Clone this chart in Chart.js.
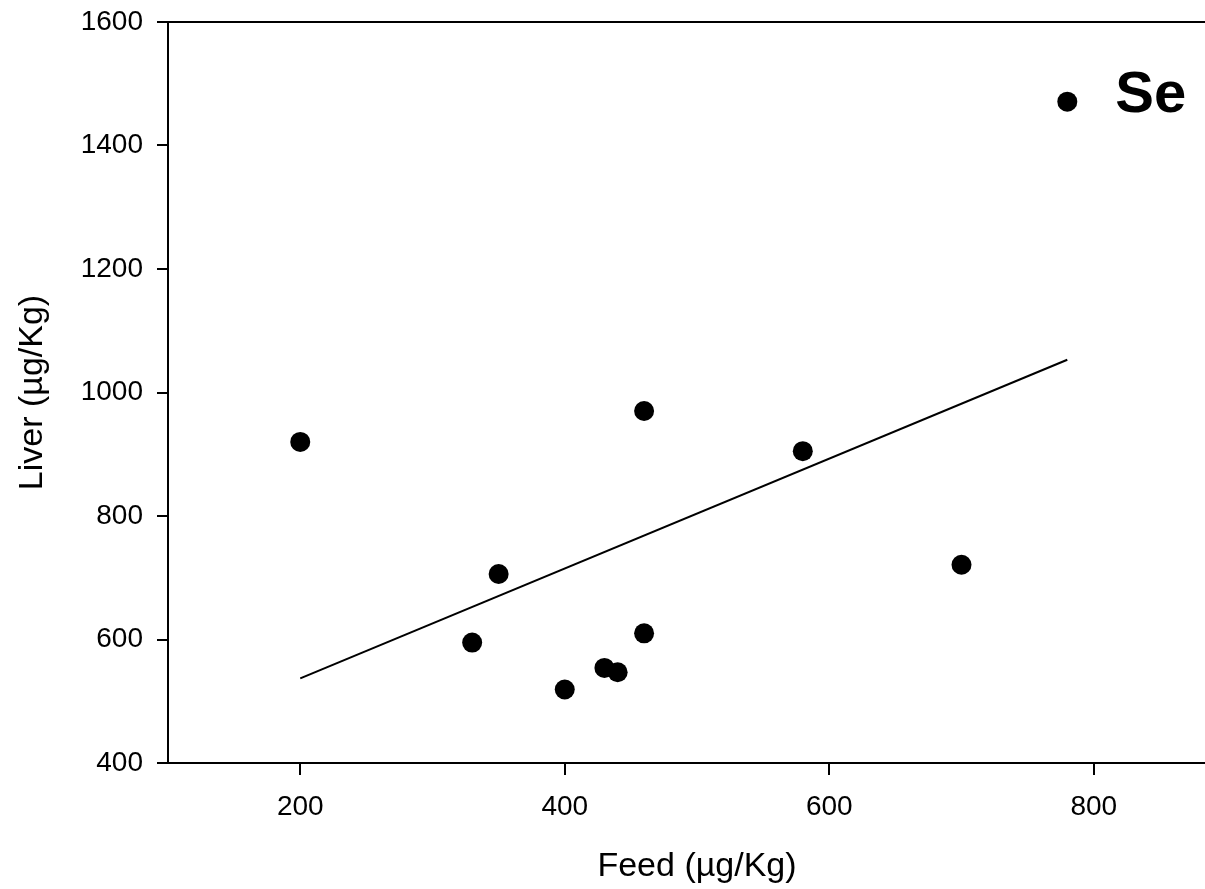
<!DOCTYPE html>
<html>
<head>
<meta charset="utf-8">
<script src="https://cdn.jsdelivr.net/npm/chart.js@4/dist/chart.umd.min.js"></script>
<style>
  html, body { margin: 0; padding: 0; background: #fff; overflow: hidden; }
  canvas { display: block; }
</style>
</head>
<body>
<canvas id="seChart" width="1240" height="889"></canvas>
<script>
// values
const feed = [200, 330, 350, 400, 430, 440, 460, 460, 580, 700, 780];
const liver = [920, 595, 706, 519, 554, 547, 610, 970, 905, 721, 1471];
const fitFeed = [200, 780];
const fitLiver = [537, 1053];
const xTicks = [200, 400, 600, 800];
const yTicks = [400, 600, 800, 1000, 1200, 1400, 1600];
const elementLabel = "Se";

const FONT = "'Liberation Sans', Arial, Helvetica, sans-serif";

// top frame line + element label
const extras = {
    id: "extras",
    afterDraw(chart) {
        const ctx = chart.ctx;
        const area = chart.chartArea;
        ctx.save();
        ctx.strokeStyle = "#000";
        ctx.lineWidth = 2;
        ctx.beginPath();
        ctx.moveTo(area.left, area.top);
        ctx.lineTo(area.right, area.top);
        ctx.stroke();

        const i = feed.length - 1;
        const px = chart.scales.x.getPixelForValue(feed[i]);
        const py = chart.scales.y.getPixelForValue(liver[i]);
        ctx.fillStyle = "#000";
        ctx.font = "bold 58px " + FONT;
        ctx.textBaseline = "alphabetic";
        ctx.textAlign = "left";
        ctx.fillText(elementLabel, px + 48, py + 10);
        ctx.restore();
    }
};

const ctx = document.getElementById("seChart").getContext("2d");
new Chart(ctx, {
    type: "scatter",
    data: {
        datasets: [{
            label: elementLabel,
            data: feed.map((f, i) => ({x: f, y: liver[i]})),
            backgroundColor: "#000",
            borderWidth: 0,
            pointRadius: 10,
            pointHoverRadius: 10
        }, {
            type: "line",
            label: "fit",
            data: fitFeed.map((f, i) => ({x: f, y: fitLiver[i]})),
            borderColor: "#000",
            borderWidth: 2,
            pointRadius: 0,
            fill: false,
            tension: 0
        }]
    },
    options: {
        responsive: false,
        animation: false,
        devicePixelRatio: 1,
        layout: {padding: {top: 22, right: 14, left: 0, bottom: 0}},
        plugins: {legend: {display: false}, tooltip: {enabled: false}},
        scales: {
            x: {
                type: "linear",
                min: 100,
                max: 900,
                afterBuildTicks: axis => { axis.ticks = xTicks.map(v => ({value: v})); },
                afterFit: axis => { axis.height = 126; axis.paddingLeft = 0; axis.paddingRight = 0; },
                grid: {drawOnChartArea: false, drawTicks: true, tickLength: 12, color: "#000", lineWidth: 2},
                border: {display: true, color: "#000", width: 2},
                ticks: {color: "#000", font: {family: FONT, size: 28}, padding: 15, maxRotation: 0,
                        callback: v => String(v)},
                title: {display: true, text: "Feed (µg/Kg)", color: "#000", font: {family: FONT, size: 34}, padding: {top: 0, bottom: 2}}
            },
            y: {
                type: "linear",
                min: 400,
                max: 1600,
                afterBuildTicks: axis => { axis.ticks = yTicks.map(v => ({value: v})); },
                afterFit: axis => { axis.width = 168; axis.paddingTop = 0; axis.paddingBottom = 0; },
                grid: {drawOnChartArea: false, drawTicks: true, tickLength: 11, color: "#000", lineWidth: 2},
                border: {display: true, color: "#000", width: 2},
                ticks: {color: "#000", font: {family: FONT, size: 28}, padding: 14,
                        callback: v => String(v)},
                title: {display: true, text: "Liver (µg/Kg)", color: "#000", font: {family: FONT, size: 34}, padding: {top: 12, bottom: 0}}
            }
        }
    },
    plugins: [extras]
});
</script>
</body>
</html>
